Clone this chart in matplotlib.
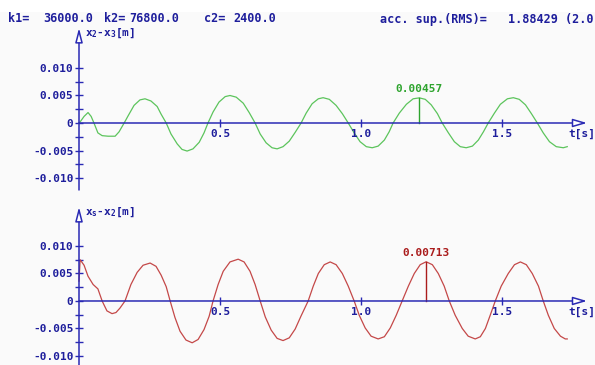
import matplotlib
matplotlib.use('Agg')
import matplotlib.pyplot as plt
from matplotlib.patches import Rectangle

# values
t_top = [0.000, 0.004, 0.018, 0.032, 0.043, 0.053, 0.067, 0.082, 0.103, 0.128, 0.142,
         0.160, 0.174, 0.195, 0.216, 0.234, 0.255, 0.277, 0.291, 0.309, 0.326, 0.348,
         0.365, 0.383, 0.404, 0.426, 0.443, 0.457, 0.475, 0.496, 0.518, 0.535, 0.557,
         0.582, 0.603, 0.624, 0.642, 0.663, 0.684, 0.702, 0.723, 0.745, 0.766, 0.787,
         0.805, 0.826, 0.848, 0.865, 0.887, 0.911, 0.933, 0.954, 0.975, 0.996, 1.018,
         1.039, 1.060, 1.082, 1.099, 1.113, 1.135, 1.160, 1.184, 1.206, 1.227, 1.248,
         1.270, 1.287, 1.309, 1.330, 1.351, 1.372, 1.394, 1.415, 1.433, 1.450, 1.472,
         1.493, 1.518, 1.539, 1.560, 1.582, 1.603, 1.624, 1.645, 1.667, 1.691, 1.716, 1.730]
x23 = [0.0, 0.0002, 0.0012, 0.0019, 0.0012, 0.0, -0.0018, -0.0023, -0.0024, -0.0024, -0.0016,
       0.0, 0.0013, 0.0032, 0.0042, 0.0044, 0.0040, 0.0030, 0.0016, 0.0, -0.0020, -0.0038,
       -0.0048, -0.0051, -0.0047, -0.0035, -0.0018, 0.0, 0.0020, 0.0038, 0.0048, 0.0050, 0.0047,
       0.0036, 0.0019, 0.0, -0.0020, -0.0036, -0.0045, -0.0047, -0.0043, -0.0033, -0.0017, 0.0,
       0.0018, 0.0035, 0.0044, 0.0046, 0.0043, 0.0032, 0.0017, 0.0, -0.0018, -0.0034, -0.0043,
       -0.0045, -0.0042, -0.0031, -0.0016, 0.0, 0.0018, 0.0034, 0.0044, 0.00457, 0.0043, 0.0033,
       0.0017, 0.0, -0.0018, -0.0034, -0.0043, -0.0045, -0.0042, -0.0031, -0.0016, 0.0, 0.0018,
       0.0034, 0.0044, 0.0046, 0.0043, 0.0033, 0.0017, 0.0, -0.0018, -0.0034, -0.0043, -0.0045, -0.0043]

t_bot = [0.000, 0.004, 0.018, 0.032, 0.050, 0.067, 0.082, 0.099, 0.117, 0.131, 0.145,
         0.163, 0.184, 0.206, 0.227, 0.252, 0.273, 0.291, 0.309, 0.323, 0.340, 0.358,
         0.379, 0.401, 0.422, 0.443, 0.461, 0.475, 0.493, 0.511, 0.535, 0.564, 0.585,
         0.606, 0.624, 0.642, 0.660, 0.681, 0.702, 0.723, 0.745, 0.766, 0.787, 0.812,
         0.830, 0.848, 0.869, 0.890, 0.911, 0.933, 0.954, 0.975, 0.993, 1.014, 1.035,
         1.060, 1.082, 1.103, 1.124, 1.145, 1.167, 1.188, 1.209, 1.230, 1.252, 1.273,
         1.294, 1.312, 1.333, 1.358, 1.379, 1.404, 1.422, 1.440, 1.457, 1.475, 1.496,
         1.521, 1.543, 1.564, 1.585, 1.606, 1.628, 1.645, 1.663, 1.684, 1.706, 1.723, 1.730]
xs2 = [0.0036, 0.0075, 0.0065, 0.0045, 0.0030, 0.0022, 0.0, -0.0018, -0.0023, -0.0021, -0.0013,
       0.0, 0.0030, 0.0052, 0.0065, 0.0069, 0.0063, 0.0047, 0.0026, 0.0, -0.0030, -0.0055,
       -0.0071, -0.0076, -0.0070, -0.0052, -0.0028, 0.0, 0.0030, 0.0054, 0.0071, 0.0076, 0.0071,
       0.0054, 0.0030, 0.0, -0.0029, -0.0053, -0.0068, -0.0072, -0.0067, -0.0051, -0.0027, 0.0,
       0.0027, 0.0050, 0.0066, 0.0071, 0.0066, 0.0050, 0.0027, 0.0, -0.0026, -0.0049, -0.0064,
       -0.0069, -0.0065, -0.0049, -0.0026, 0.0, 0.0027, 0.0050, 0.0066, 0.00713, 0.0066, 0.0050,
       0.0027, 0.0, -0.0026, -0.0050, -0.0064, -0.0069, -0.0065, -0.0050, -0.0026, 0.0, 0.0027,
       0.0050, 0.0066, 0.0071, 0.0066, 0.0050, 0.0027, 0.0, -0.0026, -0.0050, -0.0064, -0.0069, -0.0069]

peak_top = (1.206, 0.00457)
peak_bot = (1.230, 0.00713)

yticks = [0.010, 0.005, 0.0, -0.005, -0.010]
ylabels = ['0.010', '0.005', '0', '-0.005', '-0.010']
xticks = [0.5, 1.0, 1.5]
xlabels = ['0.5', '1.0', '1.5']

blue = '#2a2ab4'
txt = '#1e1e9c'
fs = 8
plt.rcParams['font.family'] = 'DejaVu Sans Mono'
plt.rcParams['font.weight'] = 'bold'
plt.rcParams['mathtext.default'] = 'regular'

fig = plt.figure(figsize=(5.95, 3.65), dpi=100, facecolor='#fafafa')
W, H = 595.0, 365.0
fig.patches.append(Rectangle((0, 1 - 12 / H), 1, 12 / H, transform=fig.transFigure,
                             fc='white', ec='none', zorder=-1))

def panel(bottom_px, top_px, ymin, ymax, t, y, color, dark, peak, ylab):
    ax = fig.add_axes([79 / W, (H - bottom_px) / H, 508 / W, (bottom_px - top_px) / H])
    ax.set_facecolor('none')
    ax.set_xlim(0, 1.8)
    ax.set_ylim(ymin, ymax)
    for s in ax.spines.values():
        s.set_visible(False)
    ax.set_xticks([])
    ax.set_yticks(yticks)
    ax.set_yticklabels(ylabels)
    ax.set_yticks([0.0075, 0.0025, -0.0025, -0.0075], minor=True)
    ax.tick_params(axis='y', which='both', direction='inout', length=6, width=1,
                   color=blue, labelcolor=txt, labelsize=fs, pad=1)
    # axes with open arrow heads
    ax.annotate('', xy=(1.8, 0), xytext=(0, 0), annotation_clip=False,
                arrowprops=dict(arrowstyle='-|>,head_length=0.85,head_width=0.25',
                                fc='white', ec=blue, lw=1.1, shrinkA=0, shrinkB=0))
    ax.annotate('', xy=(0, ymax), xytext=(0, ymin), annotation_clip=False,
                arrowprops=dict(arrowstyle='-|>,head_length=0.85,head_width=0.22',
                                fc='white', ec=blue, lw=1.1, shrinkA=0, shrinkB=0))
    ax.plot(xticks, [0] * len(xticks), '|', color=blue, ms=6, mew=1)
    for xv, lb in zip(xticks, xlabels):
        ax.annotate(lb, (xv, 0), xytext=(0, -8), textcoords='offset points',
                    ha='center', va='center', color=txt, fontsize=fs)
    ax.annotate('t[s]', (1.8, 0), xytext=(6, -8), textcoords='offset points',
                ha='right', va='center', color=txt, fontsize=fs, annotation_clip=False)
    ax.annotate(ylab, (0, ymax), xytext=(4, -4), textcoords='offset points',
                ha='left', va='center', color=txt, fontsize=fs, annotation_clip=False)
    ax.plot(t, y, color=color, lw=0.9, clip_on=False)
    ax.plot([peak[0], peak[0]], [0, peak[1]], color=dark, lw=1)
    ax.annotate('%.5f' % peak[1], peak, xytext=(0, 6.5), textcoords='offset points',
                ha='center', va='center', color=dark, fontsize=fs)
    return ax

panel(190, 28, -0.01218, 0.01727, t_top, x23, '#5cc45c', '#2ea42e', peak_top,
      'x$_2$-x$_3$[m]')
panel(365, 207, -0.01164, 0.01709, t_bot, xs2, '#c44848', '#aa1c1c', peak_bot,
      'x$_s$-x$_2$[m]')

hy = 1 - 19 / H
hfs = 8.5
fig.text(8 / W, hy, 'k1=', color=txt, fontsize=hfs, va='center')
fig.text(43 / W, hy, '36000.0', color=txt, fontsize=hfs, va='center')
fig.text(104 / W, hy, 'k2=', color=txt, fontsize=hfs, va='center')
fig.text(129 / W, hy, '76800.0', color=txt, fontsize=hfs, va='center')
fig.text(204 / W, hy, 'c2=', color=txt, fontsize=hfs, va='center')
fig.text(233 / W, hy, '2400.0', color=txt, fontsize=hfs, va='center')
fig.text(380 / W, hy, 'acc. sup.(RMS)=', color=txt, fontsize=hfs, va='center')
fig.text(508 / W, hy, '1.88429 (2.0', color=txt, fontsize=hfs, va='center')

fig.savefig('out.png', dpi=100, facecolor=fig.get_facecolor())
